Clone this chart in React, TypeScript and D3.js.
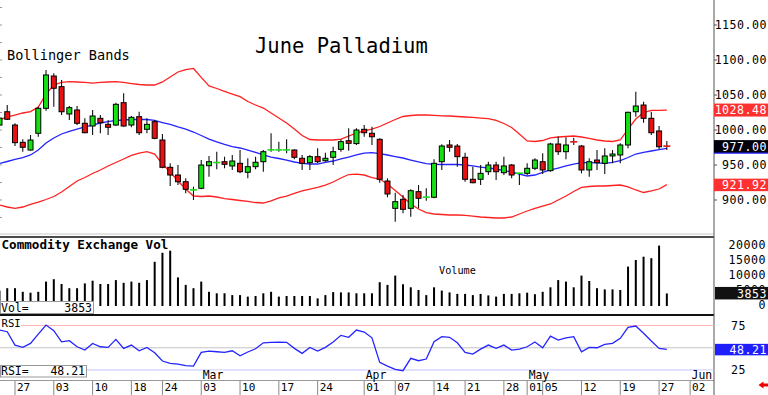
import React from "react";
import * as d3 from "d3";

const dates = ["01-23","01-24","01-27","01-28","01-29","01-30","01-31","02-03","02-04","02-05","02-06","02-07","02-10","02-11","02-12","02-13","02-14","02-18","02-19","02-20","02-21","02-24","02-25","02-26","02-27","02-28","03-03","03-04","03-05","03-06","03-07","03-10","03-11","03-12","03-13","03-14","03-17","03-18","03-19","03-20","03-21","03-24","03-25","03-26","03-27","03-28","03-31","04-01","04-02","04-03","04-04","04-07","04-08","04-09","04-10","04-11","04-14","04-15","04-16","04-17","04-21","04-22","04-23","04-24","04-25","04-28","04-29","04-30","05-01","05-02","05-05","05-06","05-07","05-08","05-09","05-12","05-13","05-14","05-15","05-16","05-19","05-20","05-21","05-22","05-23","05-27","05-28"];
const futureDates = ["05-29","05-30","06-02"];

const open = [1007,1026.1,1007.1,982.4,971.4,995.3,1031,1077.1,1061.9,1022.9,1028.6,1009.6,1005.7,1016.7,1008.1,1007.1,1039,1007.1,1019,1001,1011.9,985.7,946.7,935.7,926.1,914.3,916.7,949,953.3,954.7,948.6,952.4,939.6,947.6,954.7,971.4,971.4,971.4,971.4,959.6,953.3,961.9,956.1,961,972.4,984.7,980.6,1001,995.3,986.7,927.1,888.1,901,888.1,911.9,903.9,903.9,954.7,978.6,977.1,961,929.6,929.6,940.4,950,939,950,938.1,938.1,945.3,954.7,941.9,980,969,983.3,977.1,942.9,957.1,952.4,962.9,964.3,978.6,1026.1,1035.7,1016.7,998.6,977.5];
const high = [1024,1035.7,1009.6,986.7,992.9,1033.3,1085.7,1081,1071.4,1034.3,1034.3,1016.7,1028.6,1021.4,1014.3,1039,1052.4,1020,1026.1,1016.7,1014.3,994.3,952.4,950,931,919,957.1,962.9,969,961.9,964.3,971.4,959.6,961.9,971.4,995.3,983.3,986.7,972.4,964.3,964.3,973.9,967.6,976.1,986.7,1002.4,1002.4,1007.1,1004.7,988.1,931,910.4,907.1,915.3,921.4,916.7,958.1,979.6,985.7,980,967.6,947.6,950,954.7,954.7,961.9,951.4,939,952.4,959.6,966.7,981.9,990.4,989.6,989,978.6,959.6,971.4,973.9,971.4,981,1026.1,1054.7,1040.4,1026.1,1005.7,984.3];
const low = [1003,1014.3,977.1,969,970.4,990.4,1027.6,1033.3,1021.4,1014.3,1007.1,995.3,992.9,995.3,992.9,1005.7,1004.7,1003.9,992.9,995.3,986.7,945.3,920,921.4,909.6,900,915.3,933.3,943.9,945.3,942.9,938.1,931,943.9,940.4,969,969,966.7,958.1,942.9,942.9,952.4,954.7,950,969,970.4,978.6,990.4,978.6,924.7,903.9,869,881,876.1,888.1,899,902.4,942.9,969,947.6,926.1,923.9,921.4,935.7,928.6,935.7,931,921.4,935.7,942.9,937.1,940.4,964.3,958.1,978.6,938.1,933.3,942.9,937.1,952.4,952.4,973.9,1019,1010.4,992.9,972.4,971.4];
const close = [1017,1015.3,981.9,975.3,985.7,1031,1078.6,1059.6,1026.1,1031.9,1009.6,996.1,1020,1010.4,1003.9,1036.7,1005.7,1018.1,996.1,1008.1,988.1,946.7,935.7,926.1,915.3,914.5,950,954.7,953.5,951,955.7,940.4,947.6,953.9,969,971.6,971.6,971.6,961,952.4,961.9,954.7,959.6,969,983.3,981,1000,996.1,990.4,929.6,908.6,897.6,886.7,913.3,902.4,904.1,952.4,977.1,975.3,961.9,929.6,924.7,938.1,950,940.4,948.6,935.7,938.3,945.3,957.1,942.9,980,969,978.6,983.1,942.9,954.7,953.3,962.9,965.7,978.6,1025.3,1034.3,1016.7,996.1,976.1,977];

const bbUpper = [1014.3,1018.6,1021.4,1024.3,1026.4,1032.9,1051.4,1064.3,1067.9,1069,1068.6,1067.9,1067.1,1067.9,1068.6,1069,1067.9,1066.4,1065,1064.3,1064.3,1068.6,1075.7,1082.9,1086.4,1087.9,1075.1,1062.9,1059.3,1055.3,1051.4,1047.6,1040.7,1035.7,1031.4,1024.3,1017.1,1010,1001.4,992.1,986.4,985.7,985.7,985.7,987.1,991.4,995.7,998.6,1001.4,1005,1010,1015,1019.3,1020.7,1021.4,1021.4,1021,1020.3,1020,1019.3,1018.6,1017.9,1017.1,1016.4,1013.6,1009.3,1003.6,994.3,984.3,983.6,985,988.6,990,990.7,991.4,990,987.9,985.7,984.3,983.6,985.7,1001.4,1015.7,1025,1027.9,1028.1,1028.48];
const bbMiddle = [952.1,955,957.9,960.7,964.3,971.4,981.4,988.6,994.3,997.9,1001.4,1004.3,1007.1,1010,1012.1,1013.6,1014.3,1015,1015.3,1015,1013.6,1010.7,1007.9,1004.3,1001.4,997.1,992.1,987.1,982.9,979.3,976.4,974.3,971.4,967.9,964.3,961.4,959.3,957.1,954.3,952.4,951.4,951.4,953.6,955.7,958.6,961.4,964.3,967.1,967.6,966.4,964.3,962.1,960,957.1,954.3,952.1,951,950.7,950.7,950.7,950,948.6,947.1,945.7,944.3,942.1,940,937.1,934.3,935.7,939.3,942.9,945.7,948.6,951.4,953.3,953.3,952.9,952.4,953.6,956.4,960.7,965.7,967.9,970,972.1,973.9];
const bbLower = [892.9,890,888.1,890,893.6,897.1,900.7,905,911.4,919.3,927.1,932.1,937.9,942.9,948.6,953.6,958.6,963.6,967.1,969,965.7,951.4,940,927.1,915.7,905.7,905,905.7,904.3,902.1,900.7,899.3,897.9,896.4,895.7,898.6,902.9,905.7,909.3,912.9,915.7,918.1,921.4,925.7,931.4,936.4,937.1,935.7,932.1,930,922.9,913.6,904.3,894.3,887.1,882.1,880,879.3,878.6,878.6,877.9,877.1,875.7,875,874.3,874.3,875.7,880,884.3,887.9,891.4,894.3,900,905.7,912.1,917.9,919.3,920,920,920.7,921.4,918.6,914.3,910.7,912.9,915.7,921.92];

const volume = [4800,5600,5600,4400,4100,4400,7800,8600,7000,5600,5600,7200,8100,7000,7000,8300,7400,7800,7400,8300,14400,17400,18100,9200,6700,5600,7800,4400,3900,3900,3300,3300,2800,3000,3900,4400,2800,3000,3000,3000,3000,2200,3300,4300,4200,4200,3900,3900,3900,7600,6700,9800,6900,5900,5000,3300,5900,4800,4200,3700,3700,3300,3700,3200,2800,3700,3700,3900,4100,3600,4400,5900,8300,7800,5900,9800,8000,5600,5200,5200,5000,12800,15000,16100,15600,19800,3853];
const rsi = [70,68,53,50.4,54.9,65.4,75.5,69.1,56.7,57.9,51.1,47.4,54.9,51.1,50.4,59.4,49.3,53,46.6,50.4,44.4,35.1,32.5,31.7,29.8,29.4,44.8,46.3,45.5,44.8,46.6,41,45.2,48.9,55.6,56.1,56.4,56.1,49.3,43.7,50.4,46.3,50.4,56.4,63.9,61.7,69.9,67.6,61.2,33.6,29.4,25.7,24.2,38.1,35.4,37.3,56.7,62.4,61.7,55.6,44.8,42.9,48.5,53,49.3,53,47.4,48.5,51.1,56.4,50,63.1,58.7,61.2,62.4,45.5,50.4,50,53.8,54.9,60.6,72.9,74.4,66.2,57.5,49.3,48.21];

const dateTicks = ["01-27","02-03","02-10","02-18","02-24","03-03","03-10","03-17","03-24","04-01","04-07","04-14","04-21","04-28","05-01","05-05","05-12","05-19","05-27","06-02"];
const monthStarts = ["03-03","04-01","05-01","06-02"];
const monthNames = ["Mar","Apr","May","Jun"];
const priceTicks = [900, 950, 1000, 1050, 1100, 1150];
const volTicks = [0, 5000, 10000, 15000, 20000];
const rsiTicks = [25, 75];
const lastUpper = 1028.48;
const lastClose = 977.0;
const lastLower = 921.92;
const lastVol = 3853;
const lastRsi = 48.21;

const MONO = "'DejaVu Sans Mono', monospace";
const GREEN = "#14e014";
const RED = "#e81010";
const BAND_RED = "#ff2020";
const BLUE = "#2424ff";
const AX = 714;

export default function App() {
  const allDates = [...dates, ...futureDates];
  const x = d3.scaleLinear().domain([0, allDates.length - 1]).range([-0.52, -0.52 + 7.76 * (allDates.length - 1)]);
  const yP = d3.scaleLinear().domain([900, 1150]).range([200, 25]);
  const yV = d3.scaleLinear().domain([0, 20000]).range([305, 245]);
  const yR = d3.scaleLinear().domain([25, 75]).range([370, 325.5]);
  const xi = (d: string) => x(allDates.indexOf(d));

  const bandLine = d3.line<number>().x((_, i) => x(i)).y((d) => yP(d));
  const rsiLine = d3.line<number>().x((_, i) => x(i)).y((d) => yR(d));

  const axisText = { fontFamily: MONO, fontSize: 11.6, letterSpacing: 0.5 } as const;

  return (
    <div style={{ position: "absolute", left: 0, top: 0, width: 768, height: 395 }}>
      <svg width={768} height={395} style={{ display: "block", background: "#fff" }}>
        <defs>
          <clipPath id="pclip"><rect x={0} y={0} width={AX - 1} height={234} /></clipPath>
          <clipPath id="vclip"><rect x={0} y={238} width={AX - 1} height={76} /></clipPath>
          <clipPath id="rclip"><rect x={0} y={316} width={AX - 1} height={64} /></clipPath>
        </defs>
        <rect x={0} y={0} width={768} height={395} fill="#fff" />

        {/* left-edge minor ticks */}
        {d3.range(875, 1176, 25).map((v) => (
          <line key={"lt" + v} x1={0} x2={2} y1={yP(v)} y2={yP(v)} stroke="#999" strokeWidth={1} />
        ))}

        {/* Title texts */}
        <text x={255} y={52.5} fontFamily={MONO} fontSize={20.5} fill="#000">June Palladium</text>
        <text x={7} y={60} fontFamily={MONO} fontSize={13.6} fill="#000">Bollinger Bands</text>

        {/* Price panel */}
        <g clipPath="url(#pclip)">
          <path d={bandLine(bbUpper) || ""} fill="none" stroke={BAND_RED} strokeWidth={1.3} />
          <path d={bandLine(bbLower) || ""} fill="none" stroke={BAND_RED} strokeWidth={1.3} />
          <path d={bandLine(bbMiddle) || ""} fill="none" stroke={BLUE} strokeWidth={1.3} />
          {dates.map((d, i) => {
            const cx = x(i);
            const o = open[i], c = close[i], h = high[i], l = low[i];
            const up = c >= o;
            const doji = Math.abs(c - o) < 1;
            const top = yP(Math.max(o, c));
            const bot = yP(Math.min(o, c));
            return (
              <g key={d}>
                <line x1={cx} x2={cx} y1={yP(h)} y2={yP(l)} stroke="#111" strokeWidth={1.1} />
                {doji ? (
                  <line x1={cx - 3.5} x2={cx + 3.5} y1={yP(c)} y2={yP(c)} stroke={up ? GREEN : RED} strokeWidth={1.6} />
                ) : (
                  <rect x={cx - 2.5} y={top} width={5} height={Math.max(bot - top, 1)} fill={up ? GREEN : RED} stroke="#000" strokeWidth={1} />
                )}
              </g>
            );
          })}
        </g>

        {/* separators */}
        <line x1={0} x2={AX} y1={234} y2={234} stroke="#c8c8c8" strokeWidth={1} />
        <line x1={0} x2={AX} y1={237} y2={237} stroke="#111" strokeWidth={1.6} />
        <line x1={0} x2={AX} y1={315} y2={315} stroke="#111" strokeWidth={1.8} />
        <line x1={0} x2={AX} y1={380.5} y2={380.5} stroke="#999" strokeWidth={1} />
        <line x1={AX} x2={AX} y1={0} y2={395} stroke="#555" strokeWidth={1} />

        {/* Volume panel */}
        <text x={1.5} y={248.5} fontFamily={MONO} fontSize={12.6} fontWeight="bold" fill="#000">Commodity Exchange Vol</text>
        <text x={439} y={274} fontFamily={MONO} fontSize={10.2} fill="#000">Volume</text>
        <g clipPath="url(#vclip)">
          {volume.map((v, i) => (
            <rect key={"v" + i} x={x(i) - 1} y={yV(v)} width={2} height={yV(0) - yV(v) + 1} fill="#000" />
          ))}
        </g>
        <rect x={0.5} y={301.5} width={93} height={12} fill="#fff" stroke="#999" strokeWidth={1} />
        <text x={1} y={311.5} fontFamily={MONO} fontSize={11.5} fill="#000">Vol=</text>
        <text x={92} y={311.5} fontFamily={MONO} fontSize={11.5} fill="#000" textAnchor="end">{String(lastVol)}</text>

        {/* RSI panel */}
        <line x1={21} x2={AX} y1={yR(75)} y2={yR(75)} stroke="#ffb4b4" strokeWidth={1} />
        <line x1={0} x2={AX} y1={yR(50)} y2={yR(50)} stroke="#c4c4c4" strokeWidth={1.2} />
        <line x1={87} x2={AX} y1={yR(25)} y2={yR(25)} stroke="#c4c4ff" strokeWidth={1.2} />
        <text x={1.5} y={327.3} fontFamily={MONO} fontSize={10.6} fill="#000">RSI</text>
        {monthStarts.map((m, k) => (
          <g key={m}>
            <rect x={xi(m) + 1} y={370.6} width={monthNames[k].length * 7} height={9} fill="#fff" />
            <text x={xi(m) + 1.5} y={378.5} fontFamily={MONO} fontSize={11.4} fill="#000">{monthNames[k]}</text>
          </g>
        ))}
        <g clipPath="url(#rclip)">
          <path d={rsiLine(rsi) || ""} fill="none" stroke={BLUE} strokeWidth={1.3} />
        </g>
        <rect x={0.5} y={365.5} width={86} height={11.5} fill="#fff" stroke="#999" strokeWidth={1} />
        <text x={1} y={375.2} fontFamily={MONO} fontSize={11.5} fill="#000">RSI=</text>
        <text x={85} y={375.2} fontFamily={MONO} fontSize={11.5} fill="#000" textAnchor="end">{lastRsi.toFixed(2)}</text>

        {/* Date axis */}
        {dateTicks.map((d) => (
          <g key={"t" + d}>
            <line x1={xi(d)} x2={xi(d)} y1={381} y2={395} stroke="#888" strokeWidth={1} />
            <text x={xi(d) + 2} y={390.8} fontFamily={MONO} fontSize={11} fill="#000">{d.slice(3)}</text>
          </g>
        ))}

        {/* Right price axis */}
        {priceTicks.map((v) => (
          <g key={"p" + v}>
            <line x1={AX} x2={AX + 3} y1={yP(v)} y2={yP(v)} stroke="#555" />
            <text x={767} y={yP(v) + 4.2} textAnchor="end" fill="#000" {...axisText}>{v.toFixed(2)}</text>
          </g>
        ))}
        <rect x={AX} y={yP(lastUpper) - 6.5} width={768 - AX} height={13} fill="#ff3030" />
        <text x={767} y={yP(lastUpper) + 4.2} textAnchor="end" fill="#fff" {...axisText}>{lastUpper.toFixed(2)}</text>
        <rect x={AX} y={yP(lastClose) - 6} width={768 - AX} height={13} fill="#00000c" />
        <line x1={AX} x2={768} y1={yP(lastClose) + 7} y2={yP(lastClose) + 7} stroke={BLUE} strokeWidth={1.2} />
        <text x={767} y={yP(lastClose) + 4.7} textAnchor="end" fill="#fff" {...axisText}>{lastClose.toFixed(2)}</text>
        <rect x={AX} y={yP(lastLower) - 6} width={768 - AX} height={12.5} fill="#ff3030" />
        <text x={767} y={yP(lastLower) + 4.4} textAnchor="end" fill="#fff" {...axisText}>{lastLower.toFixed(2)}</text>

        {/* Right volume axis */}
        {volTicks.map((v) => (
          <text key={"vt" + v} x={766} y={yV(v) + 4.2} textAnchor="end" fill="#000" {...axisText}>{String(v)}</text>
        ))}
        <rect x={AX + 1} y={yV(lastVol) - 6.5} width={768 - AX - 1} height={12.5} fill="#111" />
        <text x={767} y={yV(lastVol) + 4.2} textAnchor="end" fill="#fff" {...axisText}>{String(lastVol)}</text>

        {/* Right RSI axis */}
        {rsiTicks.map((v) => (
          <text key={"rt" + v} x={731} y={yR(v) + 4.2} fill="#000" {...axisText}>{String(v)}</text>
        ))}
        <rect x={AX + 1} y={yR(lastRsi) - 5.5} width={768 - AX - 1} height={11.5} fill="#1e1eff" />
        <text x={767} y={yR(lastRsi) + 4.2} textAnchor="end" fill="#fff" {...axisText}>{lastRsi.toFixed(2)}</text>

        {/* red arrow */}
        <polygon points="758.5,385 763.5,381.5 763.5,383.6 768,383.6 768,386.4 763.5,386.4 763.5,388.5" fill="#ee0000" />
      </svg>
    </div>
  );
}
